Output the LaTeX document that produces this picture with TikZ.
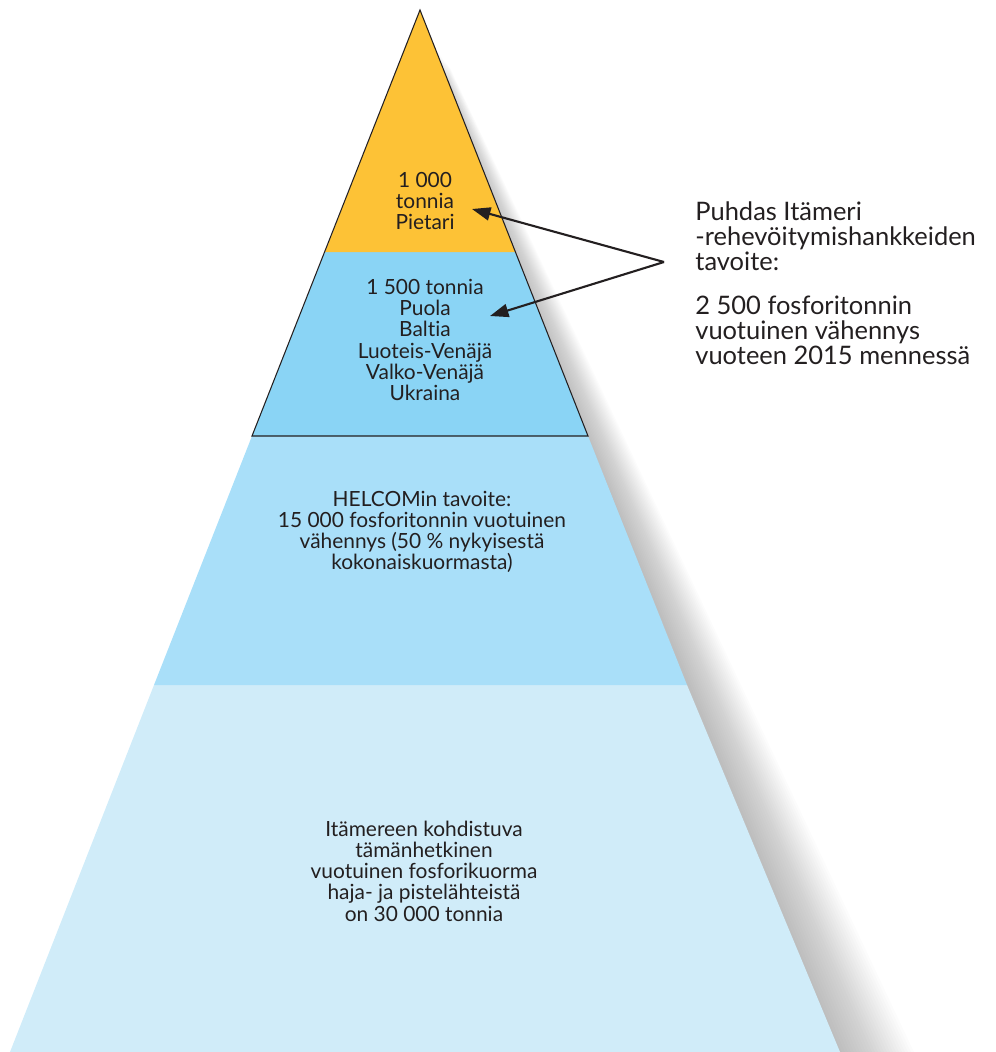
\documentclass[tikz,border=0pt]{standalone}
\usepackage{fontspec}
\setmainfont[Ligatures=NoCommon]{Lato}
\usetikzlibrary{arrows.meta}
\usetikzlibrary{positioning}

\definecolor{pyrorange}{HTML}{FDC236}
\definecolor{pyrblue}{HTML}{8AD4F5}
\definecolor{pyrmid}{HTML}{A9DFF9}
\definecolor{pyrpale}{HTML}{D0ECF9}
\definecolor{txtgray}{HTML}{231F20}

\begin{document}
\begin{tikzpicture}[
    x=0.02cm, y=-0.02cm,
    layertext/.style={
        align=center,
        font=\fontsize{11.9}{12.1}\selectfont,
        text=txtgray,
        inner sep=0pt,
        },
    sidetext/.style={
        align=left,
        anchor=north west,
        font=\fontsize{14.5}{14.2}\selectfont,
        text=txtgray,
        inner sep=0pt,
        },
    outline/.style={
        draw=txtgray,
        line width=0.6pt,
        },
    pointer/.style={
        -{Triangle[length=10.5pt,width=7.5pt]},
        line width=1.2pt,
        txtgray,
        },
    ]

    \useasboundingbox (0,0) rectangle (995,1052);

    % soft shadow right of the pyramid
    \foreach \d in {2,5,...,74}
        \fill [black, opacity=0.01] (420+\d*0.4,30+\d*0.5) -- (840+\d,1052) -- (420,1052) -- cycle;

    % layers
    \fill [pyrpale]   (154,685) -- (687,685) -- (840,1052) -- (10,1052) -- cycle;
    \fill [pyrmid]    (252,436) -- (588,436) -- (687,685) -- (154,685) -- cycle;
    \fill [pyrblue]   (325,252) -- (515,252) -- (588,436) -- (252,436) -- cycle;
    \fill [pyrorange] (420,10) -- (515,252) -- (325,252) -- cycle;
    \draw [outline] (420,10) -- (588,436) -- (252,436) -- cycle;

    \node [layertext] (pietari) at (425,201) {1 000\\tonnia\\Pietari};
    \node [layertext] (puola) at (425,340) {1 500 tonnia\\Puola\\Baltia\\Luoteis-Venäjä\\Valko-Venäjä\\Ukraina};
    \node [layertext] (helcom) at (422,532) {HELCOMin tavoite:\\15 000 fosforitonnin vuotuinen\\vähennys (50 \% nykyisestä\\kokonaiskuormasta)};
    \node [layertext] (kuorma) at (424,871)
        {Itämereen kohdistuva\\tämänhetkinen\\vuotuinen fosforikuorma\\haja- ja pistelähteistä\\on 30 000 tonnia};

    \node [sidetext] (hanke) at (695,201) {Puhdas Itämeri\\-rehevöitymishankkeiden\\tavoite:};
    \node [sidetext, below=14pt of hanke.south west, anchor=north west] (goal) {2 500 fosforitonnin\\vuotuinen vähennys\\vuoteen 2015 mennessä};

    \coordinate (src) at (664,262);
    \coordinate (tip1) at (472,209);
    \coordinate (tip2) at (490,316);

    \draw [pointer] (src) -- (tip1);
    \draw [pointer] (src) -- (tip2);

\end{tikzpicture}
\end{document}
